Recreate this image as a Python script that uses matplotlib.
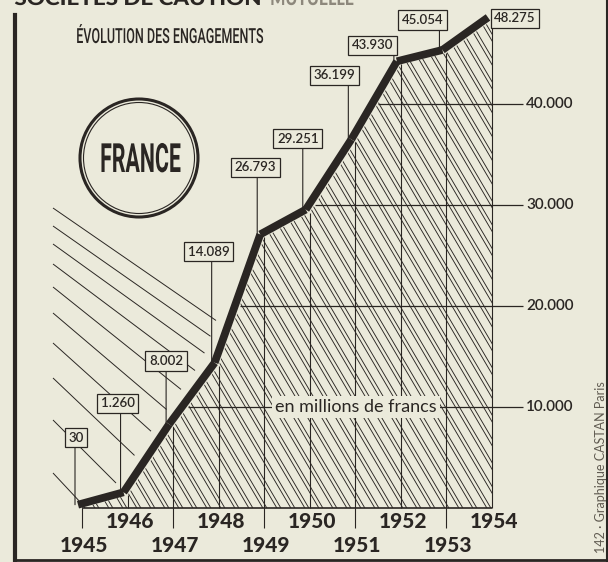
import matplotlib
matplotlib.use("Agg")
import matplotlib.pyplot as plt
import numpy as np
from matplotlib.patches import Polygon, Circle
from matplotlib.collections import LineCollection
from matplotlib.patheffects import AbstractPathEffect
from matplotlib.transforms import Affine2D, IdentityTransform, offset_copy

# data (millions de francs)
years = [1945, 1946, 1947, 1948, 1949, 1950, 1951, 1952, 1953, 1954]
engagements = [30, 1260, 8002, 14089, 26793, 29251, 36199, 43930, 45054, 48275]
value_labels = ["30", "1.260", "8.002", "14.089", "26.793", "29.251",
                "36.199", "43.930", "45.054", "48.275"]
grid_values = [10000, 20000, 30000, 40000]
grid_labels = ["10.000", "20.000", "30.000", "40.000"]

header_dark = "SOCIÉTÉS DE CAUTION"
header_light = "MUTUELLE"
title = "ÉVOLUTION DES ENGAGEMENTS"
country = "FRANCE"
unit_note = "en millions de francs"
credit = "142 · Graphique CASTAN Paris"

BG = "#ebeadb"
INK = "#2a2623"
W, H = 608, 562

# label boxes: offset of box centre from the data point, pixels (right, up)
box_offsets = [(-6, 70), (-10, 92), (-7, 66), (-10, 114), (-9, 70),
               (-12, 74), (-21, 67), (-28, 19), (-24, 33), (23, 2)]
# decorative fan of lines left of the curve: start y (px from top) and slope
fan_starts = [208, 226, 244, 264, 287, 313, 343, 378, 420, 473]
fan_slopes = [0.69, 0.70, 0.72, 0.75, 0.80, 0.85, 0.90, 0.95, 1.00, 1.07]


class FitWidth(AbstractPathEffect):
    """squeeze/stretch a text horizontally to a width in pixels"""

    def __init__(self, width):
        super().__init__()
        self.width = width

    def draw_path(self, renderer, gc, tpath, affine, rgbFace=None):
        bb = tpath.get_extents(affine)
        cx = (bb.x0 + bb.x1) / 2
        sx = self.width / bb.width
        squeeze = Affine2D().translate(-cx, 0).scale(sx, 1).translate(cx, 0)
        renderer.draw_path(gc, tpath, affine + squeeze, rgbFace)


fig = plt.figure(figsize=(W / 100, H / 100), dpi=100)
fig.patch.set_facecolor(BG)
ax = fig.add_axes([0, 0, 1, 1])
ax.set_axis_off()

# scale: 1945 at x=82px, 1954 at x=492px ; 0 at y=508px, 40000 at y=104px
ppy = (492 - 82) / 9
ppu = (508 - 104) / 40000
ax.set_xlim(1945 - 82 / ppy, 1945 + (W - 82) / ppy)
ax.set_ylim(-(H - 508) / ppu, 508 / ppu)

# hatched area under the curve
area = Polygon(np.column_stack([years + [years[-1], years[0]],
                                engagements + [0, 0]]),
               closed=True, fc="none", ec="none")
ax.add_patch(area)

slope = 1.7
segs = []
for c in np.arange(-400, W + 100, 14):
    for g in (0, 4):
        segs.append([(c + g, H), (c + g + H / slope, 0)])
hatch = LineCollection(segs, colors=INK, linewidths=0.65,
                       transform=IdentityTransform())
hatch.set_clip_path(area)
ax.add_collection(hatch, autolim=False)

# year dividers, baseline, ticks
ax.vlines(years, 0, engagements, colors=INK, lw=0.8)
ax.hlines(0, years[0], years[-1], colors=INK, lw=1.2)
ax.vlines(years[::2], -20 / ppu, 0, colors=INK, lw=0.8)

# horizontal scale lines
right_end = years[-1] + 31 / ppy
for g, lab in zip(grid_values, grid_labels):
    start = np.interp(g, engagements, years)
    ax.hlines(g, start, right_end, colors=INK, lw=0.9)
    ax.text(right_end + 3 / ppy, g, lab, ha="left", va="center",
            fontsize=11, fontweight="semibold", family="Lato", color=INK)

ax.text(1945 + (356 - 82) / ppy, grid_values[0], unit_note, ha="center",
        va="center", fontsize=13, family="Lato", color=INK, zorder=5,
        bbox=dict(fc=BG, ec="none", pad=2))

# thick curve, drawn segment by segment, nudged up-left of the area edge
line_tr = offset_copy(ax.transData, fig=fig, x=-4, y=3, units="dots")
for i in range(len(years) - 1):
    ax.plot(years[i:i + 2], engagements[i:i + 2], color=INK, lw=5.6,
            solid_capstyle="butt", transform=line_tr, zorder=6)

# fan of lines on the left, stopping short of the curve
pts = line_tr.transform(np.column_stack([years, engagements]))
fan = []
for ys, m in zip(fan_starts, fan_slopes):
    xx = np.arange(53, 600, 0.5)
    yy = (H - ys) - m * (xx - 53)
    xc = np.interp(yy, pts[:, 1], pts[:, 0])
    stop = np.argmax(xx >= xc - 14)
    fan.append([(53, H - ys), (xx[stop], yy[stop])])
ax.add_collection(LineCollection(fan, colors=INK, linewidths=0.7,
                                 transform=IdentityTransform()),
                  autolim=False)

# value boxes with leaders
leader_tr = offset_copy(ax.transData, fig=fig, x=-7, y=3, units="dots")
for i, (yr, v, lab) in enumerate(zip(years, engagements, value_labels)):
    dx, dy = box_offsets[i]
    if i < len(years) - 1:
        ax.annotate("", xy=(yr, v), xycoords=leader_tr,
                    xytext=(0, dy - 13), textcoords="offset pixels",
                    arrowprops=dict(arrowstyle="-", color=INK, lw=0.8,
                                    shrinkA=0, shrinkB=0))
    ax.annotate(lab, xy=(yr, v), xytext=(dx, dy), textcoords="offset pixels",
                ha="center", va="center", fontsize=9.5, family="Lato",
                fontweight="semibold", color=INK, zorder=7,
                bbox=dict(boxstyle="square,pad=0.28", fc=BG, ec=INK, lw=0.9))

# year labels on two rows
for k, yr in enumerate(years):
    dy = -14 if k % 2 else -37
    ax.annotate(str(yr), xy=(yr, 0), xytext=(2, dy), textcoords="offset pixels",
                ha="center", va="center", fontsize=15, fontweight="black",
                family="Lato", color=INK)

# titles (the page header is cut by the top edge, as in the scan)
fig.text(138 / W, 1 - 5 / H, header_dark, ha="center", va="baseline",
         fontsize=14, fontweight="black", family="Lato", color=INK,
         path_effects=[FitWidth(245)])
fig.text(312 / W, 1 - 5 / H, header_light, ha="center", va="baseline",
         fontsize=14, fontweight="black", family="Lato", color="#8d887c",
         path_effects=[FitWidth(82)])
fig.text(170 / W, 1 - 43 / H, title, ha="center", va="baseline", fontsize=15,
         fontweight="medium", family="Roboto", color=INK,
         path_effects=[FitWidth(186)])

# FRANCE badge
ring_c = (139 / 100, (H - 158) / 100)
fig.add_artist(Circle(ring_c, 0.59, transform=fig.dpi_scale_trans,
                      fill=False, ec=INK, lw=2.2))
fig.add_artist(Circle(ring_c, 0.555, transform=fig.dpi_scale_trans,
                      fill=False, ec=INK, lw=0.8))
fig.text(140 / W, 1 - 172 / H, country, ha="center", va="baseline",
         fontsize=29, fontweight="bold", family="Roboto", color=INK,
         path_effects=[FitWidth(79)])

fig.text(601 / W, 1 - 467 / H, credit, rotation=90, ha="center", va="center",
         fontsize=9, family="Lato", color="#5f5a50")

# frame
fig.add_artist(plt.Line2D([15 / W, 15 / W], [0, 1 - 15 / H], color=INK, lw=3))
fig.add_artist(plt.Line2D([15 / W, 607 / W], [2 / H, 2 / H], color=INK, lw=2))
fig.add_artist(plt.Line2D([607 / W, 607 / W], [0, 1], color=INK, lw=1.5))

fig.savefig("out.png", dpi=100, facecolor=BG)
